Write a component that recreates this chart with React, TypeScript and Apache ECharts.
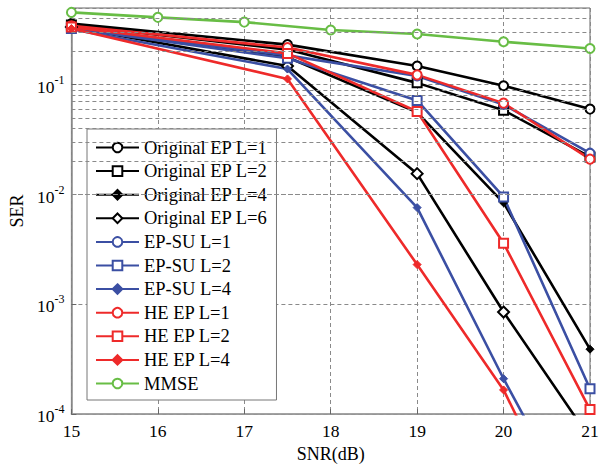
import React, { useEffect, useRef } from "react";
import * as echarts from "echarts";

const snrMMSE = [15, 16, 17, 18, 19, 20, 21];
const mmse = [0.456, 0.411, 0.372, 0.315, 0.29, 0.246, 0.214];
const snr = [15, 17.5, 19, 20, 21];
const origL1 = [0.36, 0.232, 0.148, 0.098, 0.06];
const origL2 = [0.35, 0.209, 0.104, 0.0586, 0.022];
const origL4 = [0.34, 0.178, 0.056, 0.0084, 0.00039];
const origL6 = [0.335, 0.148, 0.0155, 0.00085, 0.00006];
const epsuL1 = [0.33, 0.185, 0.12, 0.066, 0.0238];
const epsuL2 = [0.325, 0.174, 0.072, 0.0095, 0.00017];
const epsuL4 = [0.32, 0.139, 0.0076, 0.00021, 0.0000073];
const heL1 = [0.345, 0.218, 0.123, 0.068, 0.021];
const heL2 = [0.335, 0.193, 0.057, 0.0036, 0.00011];
const heL4 = [0.325, 0.113, 0.0023, 0.000166, 0.0000042];

const xTicks = [15, 16, 17, 18, 19, 20, 21];
const decades = [1e-4, 1e-3, 1e-2, 1e-1];
const minorMult = [2, 3, 4, 5, 6, 7, 8, 9];

const BLACK = "#000000";
const BLUE = "#3b4fa3";
const RED = "#ee2a2a";
const GREEN = "#68bd45";
const FONT = "Liberation Serif";

export default function App() {
  const ref = useRef<HTMLDivElement>(null);
  useEffect(() => {
    if (!ref.current) return;
    const chart = echarts.init(ref.current, undefined, { renderer: "svg" });

    const mk = (
      name: string,
      xs: number[],
      ys: number[],
      color: string,
      symbol: string,
      size: number,
      filled = false
    ) => ({
      name,
      type: "line",
      data: xs.map((x, i) => [x, ys[i]]),
      symbol,
      symbolSize: size,
      showAllSymbol: true,
      lineStyle: { color, width: 2.6 },
      itemStyle: filled
        ? { color, borderColor: color, borderWidth: 1 }
        : { color: "#ffffff", borderColor: color, borderWidth: 2 },
      z: 3,
      clip: true,
    });

    const minorValues: number[] = [];
    decades.forEach((d) =>
      minorMult.forEach((m) => {
        const v = d * m;
        if (v < 0.5) minorValues.push(v);
      })
    );

    const series: any[] = [
      {
        name: "__grid",
        type: "line",
        data: [],
        z: 1,
        silent: true,
        markLine: {
          silent: true,
          symbol: ["none", "none"],
          label: { show: false },
          lineStyle: { type: [4, 3], color: "#8a8a8a", width: 1 },
          data: minorValues.map((v) => ({ yAxis: v })),
        },
      },
      mk("Original EP L=1", snr, origL1, BLACK, "circle", 9),
      mk("Original EP L=2", snr, origL2, BLACK, "rect", 9),
      mk("Original EP L=4", snr, origL4, BLACK, "diamond", 8, true),
      mk("Original EP L=6", snr, origL6, BLACK, "diamond", 11),
      mk("EP-SU L=1", snr, epsuL1, BLUE, "circle", 9),
      mk("EP-SU L=2", snr, epsuL2, BLUE, "rect", 9),
      mk("EP-SU L=4", snr, epsuL4, BLUE, "diamond", 8, true),
      mk("HE EP L=1", snr, heL1, RED, "circle", 9),
      mk("HE EP L=2", snr, heL2, RED, "rect", 9),
      mk("HE EP L=4", snr, heL4, RED, "diamond", 8, true),
      mk("MMSE", snrMMSE, mmse, GREEN, "circle", 9),
    ];

    chart.setOption({
      animation: false,
      backgroundColor: "#ffffff",
      grid: {
        left: 70,
        right: 25,
        top: 8,
        bottom: 45,
        show: true,
        borderColor: "#666",
        borderWidth: 1,
        backgroundColor: "transparent",
      },
      legend: {
        orient: "vertical",
        left: 87,
        top: 129,
        backgroundColor: "#ffffff",
        borderColor: "#777",
        borderWidth: 1,
        borderRadius: 0,
        padding: [9, 9, 7, 8],
        itemWidth: 43,
        itemHeight: 12,
        itemGap: 4.6,
        textStyle: { fontFamily: FONT, fontSize: 18.5, color: "#000" },
        data: series.slice(1).map((s) => s.name),
      },
      xAxis: {
        type: "value",
        min: 15,
        max: 21,
        interval: 1,
        name: "SNR(dB)",
        nameLocation: "middle",
        nameGap: 29,
        nameTextStyle: { fontFamily: FONT, fontSize: 18, color: "#000" },
        axisLine: { lineStyle: { color: "#999", width: 1.5 } },
        axisTick: { inside: true, length: 5, lineStyle: { color: "#666" } },
        axisLabel: {
          fontFamily: FONT,
          fontSize: 17.5,
          color: "#000",
          margin: 8,
          formatter: (v: number) => (xTicks.includes(v) ? String(v) : ""),
        },
        splitLine: { show: true, lineStyle: { type: [4, 3], color: "#8a8a8a", width: 1 } },
      },
      yAxis: {
        type: "log",
        logBase: 10,
        min: 1e-4,
        max: 0.5,
        name: "SER",
        nameLocation: "middle",
        nameGap: 40,
        nameTextStyle: { fontFamily: FONT, fontSize: 18, color: "#000" },
        axisLine: { show: true, lineStyle: { color: "#888", width: 1.5 } },
        axisTick: { inside: true, length: 5, lineStyle: { color: "#666" } },
        axisLabel: {
          margin: 7,
          formatter: (v: number) => {
            const l = Math.log10(v);
            const e = Math.round(l);
            if (Math.abs(l - e) > 1e-6) return "";
            return `{b|10}{s|${e}}`;
          },
          rich: {
            b: { fontFamily: FONT, fontSize: 17.5, color: "#000", lineHeight: 22, verticalAlign: "bottom" },
            s: { fontFamily: FONT, fontSize: 12, color: "#000", verticalAlign: "top", lineHeight: 22 },
          },
        },
        splitLine: { show: true, lineStyle: { type: [4, 3], color: "#8a8a8a", width: 1 } },
      },
      series,
    });

    return () => chart.dispose();
  }, []);

  return (
    <div
      ref={ref}
      style={{ position: "absolute", left: 0, top: 0, width: 615, height: 468 }}
    />
  );
}
